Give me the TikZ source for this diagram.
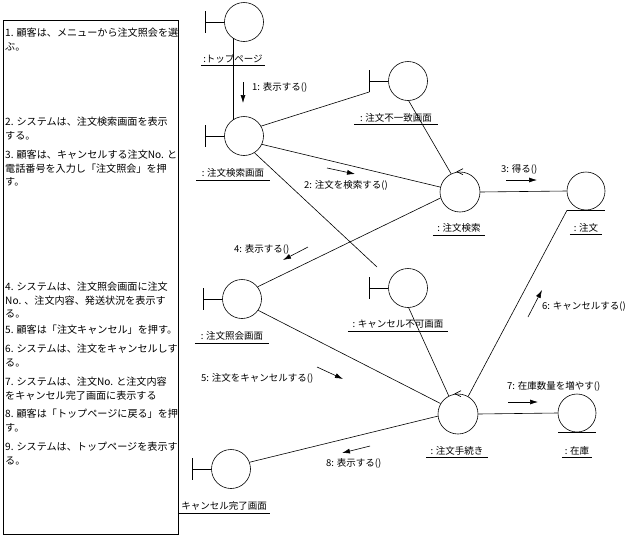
\documentclass[tikz,border=0pt]{standalone}
\usepackage{fontspec}
\setmainfont{Noto Sans CJK JP}
\usetikzlibrary{positioning, arrows.meta}

\begin{document}
\begin{tikzpicture}[x=1pt, y=-1pt,
          bnd/.style={circle, draw, line width=0.6pt, minimum size=39pt, inner sep=0pt},
          ctl/.style={bnd, minimum size=40pt},
          ent/.style={bnd, minimum size=38pt},
          objl/.style={font=\fontsize{9.5}{11}\selectfont, anchor=south,
                       inner xsep=0pt, inner ysep=2pt},
          lnk/.style={draw, line width=0.6pt},
          msg/.style={-{Latex[length=8pt, width=5pt]}, line width=0.6pt},
          msgl/.style={font=\fontsize{9.5}{11}\selectfont, anchor=west, inner sep=0pt},
          stepl/.style={font=\fontsize{10.1}{13.5}\selectfont, anchor=north west,
                        align=left, inner sep=0pt}
        ]
        \useasboundingbox (0,0) rectangle (625,536);

        % flow of events
        \node[draw, line width=0.8pt, minimum width=175pt, minimum height=514pt,
              anchor=north west, inner sep=0pt] (flow) at (3,20) {};
        \node[stepl] (s1) at (5,28)  {1. 顧客は、メニューから注文照会を選\\ぶ。};
        \node[stepl] (s2) at (5,117) {2. システムは、注文検索画面を表示\\する。};
        \node[stepl] (s3) at (5,150) {3. 顧客は、キャンセルする注文No. と\\電話番号を入力し「注文照会」を押\\す。};
        \node[stepl] (s4) at (5,282) {4. システムは、注文照会画面に注文\\No. 、注文内容、発送状況を表示す\\る。};
        \node[stepl] (s5) at (5,325) {5. 顧客は「注文キャンセル」を押す。};
        \node[stepl] (s6) at (5,344) {6. システムは、注文をキャンセルしす\\る。};
        \node[stepl] (s7) at (5,377) {7. システムは、注文No. と注文内容\\をキャンセル完了画面に表示する};
        \node[stepl] (s8) at (5,409) {8. 顧客は「トップページに戻る」を押\\す。};
        \node[stepl] (s9) at (5,442) {9. システムは、トップページを表示す\\る。};

        % boundary objects
        \node[bnd] (top)  at (244,22)  {};
        \node[bnd] (srch) at (244,136) {};
        \node[bnd] (mis)  at (408,81)  {};
        \node[bnd] (inq)  at (242,299) {};
        \node[bnd] (ncan) at (408,288) {};
        \node[bnd] (done) at (231,469) {};
        \foreach \n in {top,srch,mis,inq,ncan,done}
          \draw[lnk] (\n.west) -- ++(-19,0) ++(0,-11) -- ++(0,22) coordinate (\n-foot);

        % control objects
        \node[ctl] (osrch) at (460,192) {};
        \node[ctl] (proc)  at (458,414) {};
        \foreach \n in {osrch,proc}
          \draw[lnk] ([shift={(3,-3)}]\n.north) -- ([xshift=-3]\n.north)
                     -- ([shift={(3,3)}]\n.north);

        % entity objects
        \node[ent] (ord) at (586,191) {};
        \node[ent] (stk) at (577,413) {};
        \foreach \n in {ord,stk}
          \draw[lnk] ([xshift=-19]\n.south) coordinate (\n-foot) -- ([xshift=19]\n.south);

        % object names
        \node[objl, minimum width=64pt]  (topl)   at (233,65)  {:トップページ};
        \node[objl, minimum width=73pt]  (srchl)  at (233,180) {: 注文検索画面};
        \node[objl, minimum width=83pt]  (misl)   at (396,124) {: 注文不一致画面};
        \node[objl, minimum width=52pt]  (osrchl) at (459,235) {: 注文検索};
        \node[objl, minimum width=32pt]  (ordl)   at (586,234) {: 注文};
        \node[objl, minimum width=74pt]  (inql)   at (232,343) {: 注文照会画面};
        \node[objl, minimum width=100pt] (ncanl)  at (398,331) {: キャンセル不可画面};
        \node[objl, minimum width=61pt]  (procl)  at (457,457) {: 注文手続き};
        \node[objl, minimum width=30pt]  (stkl)   at (577,457) {: 在庫};
        \node[objl, minimum width=92pt]  (donel)  at (224,513) {キャンセル完了画面};
        \foreach \n in {topl,srchl,misl,osrchl,ordl,inql,ncanl,procl,stkl,donel}
          \draw[lnk] (\n.south west) -- (\n.south east);

        % links
        \coordinate (ncan-end) at ([shift={(-31,-21)}]ncan.center);
        \draw[lnk] (top.-124)  -- (srch.124);
        \draw[lnk] (srch.30)   -- (mis-foot);
        \draw[lnk] (mis.-88)   -- (osrch.116);
        \draw[lnk] (srch.-25)  -- (osrch.166);
        \draw[lnk] (srch.-58)  -- (ncan-end);
        \draw[lnk] (osrch.east) -- (ord.west);
        \draw[lnk] (osrch.-163) -- (inq.38);
        \draw[lnk] (ncan.-88)  -- (proc.117);
        \draw[lnk] (ord-foot)  -- (proc.60);
        \draw[lnk] (inq.-35)   -- (proc.149);
        \draw[lnk] (proc.186)  -- (done.20);
        \draw[lnk] (proc.east) -- (stk.west);

        % messages
        \coordinate (m1) at (243,82);  \draw[msg] (m1) -- ++(0,21);
        \coordinate (m2) at (327,168); \draw[msg] (m2) -- ++(28,6);
        \coordinate (m3) at (506,180); \draw[msg] (m3) -- ++(31,0);
        \coordinate (m4) at (308,247); \draw[msg] (m4) -- ++(-25,13);
        \coordinate (m5) at (317,367); \draw[msg] (m5) -- ++(26,12);
        \coordinate (m6) at (528,317); \draw[msg] (m6) -- ++(14,-27);
        \coordinate (m7) at (508,402); \draw[msg] (m7) -- ++(30,0);
        \coordinate (m8) at (370,446); \draw[msg] (m8) -- ++(-28,7);
        \node[msgl] (m1l) at (252,87)  {1: 表示する()};
        \node[msgl] (m2l) at (304,185) {2: 注文を検索する()};
        \node[msgl] (m3l) at (501,169) {3: 得る()};
        \node[msgl] (m4l) at (234,249) {4: 表示する()};
        \node[msgl] (m5l) at (201,378) {5: 注文をキャンセルする()};
        \node[msgl] (m6l) at (542,307) {6: キャンセルする()};
        \node[msgl] (m7l) at (507,386) {7: 在庫数量を増やす()};
        \node[msgl] (m8l) at (326,463) {8: 表示する()};
      \end{tikzpicture}
\end{document}
